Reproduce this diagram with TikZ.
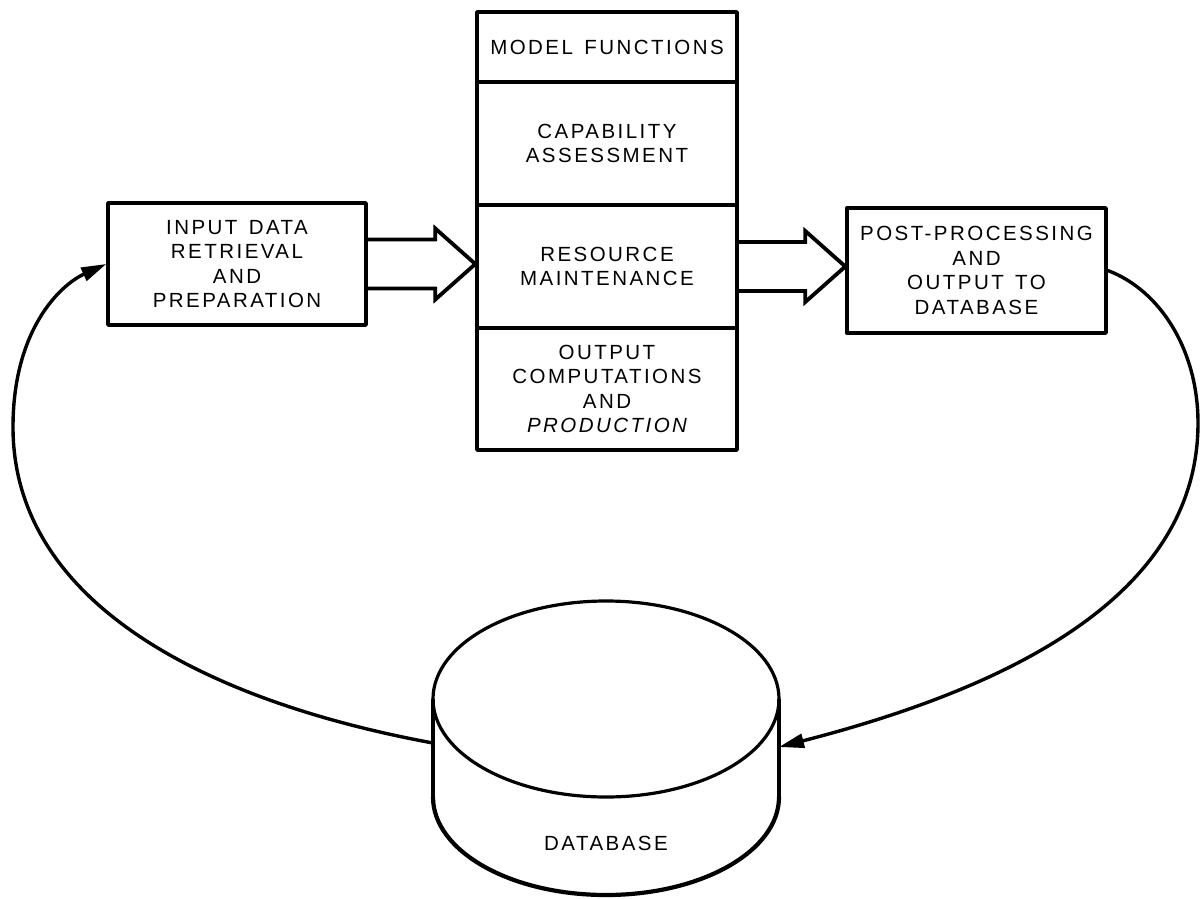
\documentclass[tikz,border=0pt]{standalone}
\usepackage{fontspec}
\setmainfont{Liberation Sans}[LetterSpace=12,WordSpace=1.4]
\usetikzlibrary{arrows.meta,calc}
\begin{document}
\begin{tikzpicture}[x=1pt,y=-1pt,line join=round,
  lbl/.style={font=\fontsize{20.5}{24.5}\selectfont,align=center},
  box/.style={draw,line width=3.4pt,lbl,inner sep=0pt},
  blk/.style={draw,line width=3.8pt,line join=miter},
  link/.style={draw,line width=3.4pt,-{Triangle[length=25pt,width=14pt]}},
  outline/.style={line width=3.2pt}]
\useasboundingbox (0,0) rectangle (1202,899);

% side boxes
\node[box,minimum width=258pt,minimum height=122pt] (inp) at (237,264)
  {INPUT DATA\\RETRIEVAL\\AND\\PREPARATION};
\node[box,minimum width=259pt,minimum height=125pt] (post) at (976.5,270.5)
  {POST-PROCESSING\\AND\\OUTPUT TO\\DATABASE};

% stack of model functions
\node[box,minimum width=260pt,minimum height=70pt] (mf) at (607,47) {MODEL FUNCTIONS};
\node[box,minimum width=260pt,minimum height=123pt] (cap) at (607,143.5) {CAPABILITY\\ASSESSMENT};
\node[box,minimum width=260pt,minimum height=123pt] (res) at (607,266.5) {RESOURCE\\MAINTENANCE};
\node[box,minimum width=260pt,minimum height=122pt] (out) at (607,389)
  {OUTPUT\\COMPUTATIONS\\AND\\{\itshape PRODUCTION}};

% hollow block arrows between the boxes
\draw[blk] let \p1=(inp.east), \p2=(res.west) in
  (\x1,\y1+24.5pt) -- (\x2-40pt,\y1+24.5pt) -- (\x2-40pt,\y1+35.5pt) -- (\x2,\y1)
  -- (\x2-40pt,\y1-35.5pt) -- (\x2-40pt,\y1-24.5pt) -- (\x1,\y1-24.5pt);
\draw[blk] let \p1=(res.east), \p2=(post.west) in
  (\x1,\y1+24.5pt) -- (\x2-40pt,\y1+24.5pt) -- (\x2-40pt,\y1+35.5pt) -- (\x2,\y1)
  -- (\x2-40pt,\y1-35.5pt) -- (\x2-40pt,\y1-24.5pt) -- (\x1,\y1-24.5pt);

% database cylinder
\coordinate (dbc) at (606,699);
\draw[outline] (dbc) ellipse [x radius=173pt,y radius=98pt];
\draw[outline] (433,699) -- (433,797);
\draw[outline] (779,699) -- (779,797);
\draw[line width=4.2pt] (433,797) arc[start angle=180,end angle=360,x radius=173pt,y radius=98pt];
\node[lbl] (db) at (606,843) {DATABASE};
\coordinate (db-l) at (433,743);
\coordinate (db-r) at (779,747);

% data flow loop
\draw[link] (db-l) .. controls (200,700) and (13,600) .. (13,427)
  .. controls (13,330) and (60,285) .. (inp.west);
\draw[link] (post.east) .. controls (1160,290) and (1198,350) .. (1198,423)
  .. controls (1198,600) and (1000,690) .. (db-r);
\end{tikzpicture}
\end{document}
